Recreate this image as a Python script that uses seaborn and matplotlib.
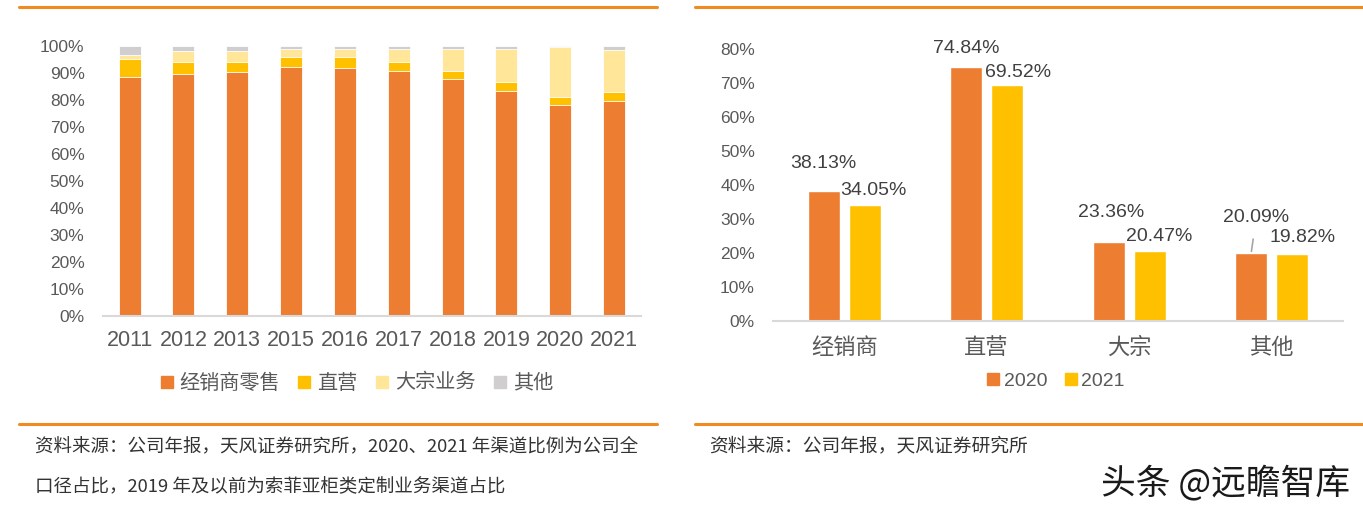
import matplotlib
matplotlib.use("Agg")
import pandas as pd
import matplotlib.pyplot as plt
import seaborn as sns
from matplotlib.lines import Line2D

# 左图：渠道结构（%）
years = ['2011', '2012', '2013', '2015', '2016', '2017', '2018', '2019', '2020', '2021']
dealer = [88.6, 89.7, 90.5, 92.2, 92.0, 90.6, 87.6, 83.5, 78.0, 79.8]
direct = [6.4, 4.4, 3.7, 3.7, 3.9, 3.6, 3.1, 3.2, 3.1, 3.2]
bulk = [1.5, 4.2, 3.9, 3.1, 3.1, 4.8, 8.3, 12.3, 18.4, 15.5]
other = [3.5, 1.7, 1.9, 1.0, 1.0, 1.0, 1.0, 1.0, 0.5, 1.5]
left_series = ['经销商零售', '直营', '大宗业务', '其他']

# 右图：2020 / 2021 渠道占比（%）
channels = ['经销商', '直营', '大宗', '其他']
share_2020 = [38.13, 74.84, 23.36, 20.09]
share_2021 = [34.05, 69.52, 20.47, 19.82]

ORANGE = '#ED7D31'
YELLOW = '#FFC000'
LIGHT = '#FFE699'
GRAY = '#D0CECE'
LINE = '#F28A22'
TICK = '#595959'

sns.set_style('white')
plt.rcParams['font.family'] = ['Liberation Sans', 'Noto Sans CJK SC']
CJK = ['Noto Sans CJK SC', 'DejaVu Sans']

fig = plt.figure(figsize=(13.63, 5.11), dpi=100)

# ---- 左图 ----
ax1 = fig.add_axes([0.0753, 0.3816, 0.395, 0.5284])
df = pd.DataFrame({'year': years, 'dealer': dealer, 'direct': direct,
                   'bulk': bulk, 'other': other})
df['c1'] = df['dealer']
df['c2'] = df['c1'] + df['direct']
df['c3'] = df['c2'] + df['bulk']
df['c4'] = df['c3'] + df['other']
for col, colr in zip(['c4', 'c3', 'c2', 'c1'], [GRAY, LIGHT, YELLOW, ORANGE]):
    sns.barplot(data=df, x='year', y=col, color=colr, width=0.41,
                edgecolor='white', linewidth=0.6, ax=ax1, saturation=1)
ax1.set_xlim(-0.5, 9.5)
ax1.set_ylim(0, 100)
ax1.set_yticks(range(0, 101, 10))
ax1.set_yticklabels([f'{v}%' for v in range(0, 101, 10)])
ax1.set_xlabel('')
ax1.set_ylabel('')

# ---- 右图 ----
ax2 = fig.add_axes([0.5671, 0.3718, 0.4182, 0.5323])
df2 = pd.DataFrame({'channel': channels * 2,
                    'year': ['2020'] * 4 + ['2021'] * 4,
                    'share': share_2020 + share_2021})
sns.barplot(data=df2, x='channel', y='share', hue='year',
            palette=[ORANGE, YELLOW], width=0.575, gap=0.22,
            saturation=1, ax=ax2, legend=False)
ax2.set_xlim(-0.5, 3.5)
ax2.set_ylim(0, 80)
ax2.set_yticks(range(0, 81, 10))
ax2.set_yticklabels([f'{v}%' for v in range(0, 81, 10)])
ax2.set_xlabel('')
ax2.set_ylabel('')

# 数据标签（偏移量，像素）
label_dx = [[0, 0, 2, 5], [9, 11, 9, 10]]
label_dy = [[28, 18, 29, 35], [15, 12, 15, 16]]
for k, cont in enumerate(ax2.containers):
    vals = share_2020 if k == 0 else share_2021
    for i, bar in enumerate(cont):
        cx = bar.get_x() + bar.get_width() / 2
        top = bar.get_height()
        arrow = None
        if k == 0 and i == 3:
            arrow = dict(arrowstyle='-', color='#A6A6A6', lw=1.2,
                         shrinkA=7, shrinkB=1)
        ax2.annotate(f'{vals[i]:.2f}%', xy=(cx, top),
                     xytext=(label_dx[k][i], label_dy[k][i]),
                     textcoords='offset pixels', ha='center', va='center',
                     fontsize=14, color='#404040', arrowprops=arrow)

for ax in (ax1, ax2):
    for s in ['top', 'right', 'left']:
        ax.spines[s].set_visible(False)
    ax.spines['bottom'].set_color('#D9D9D9')
    ax.spines['bottom'].set_linewidth(1.5)
    ax.tick_params(length=0, colors=TICK)
    for t in ax.get_yticklabels():
        t.set_fontsize(12.5)
ax1.tick_params(axis='x', labelsize=15.5, pad=10)
ax1.tick_params(axis='y', pad=13)
ax2.tick_params(axis='y', pad=13)
ax2.tick_params(axis='x', pad=11)
for t in ax2.get_xticklabels():
    t.set_fontfamily(CJK)
    t.set_fontsize(16)

# 图例
h1 = [Line2D([], [], marker='s', ls='', color=c, markersize=9)
      for c in [ORANGE, YELLOW, LIGHT, GRAY]]
leg1 = fig.legend(h1, left_series, loc='center', bbox_to_anchor=(0.261, 0.25),
                  ncol=4, frameon=False, handletextpad=0.25, handlelength=0.8,
                  columnspacing=0.8, prop={'family': CJK, 'size': 14.5})
for t in leg1.get_texts():
    t.set_color(TICK)
h2 = [Line2D([], [], marker='s', ls='', color=c, markersize=9)
      for c in [ORANGE, YELLOW]]
leg2 = fig.legend(h2, ['2020', '2021'], loc='center', bbox_to_anchor=(0.774, 0.254),
                  ncol=2, frameon=False, handletextpad=0.15, handlelength=0.8,
                  columnspacing=0.8,
                  prop={'family': ['Liberation Sans', 'DejaVu Sans'], 'size': 14})
for t in leg2.get_texts():
    t.set_color(TICK)

# 分隔线
for x0, x1 in [(19, 657), (695, 1363)]:
    for y in [6.7, 423.5]:
        fig.add_artist(Line2D([x0 / 1363, x1 / 1363], [1 - y / 511, 1 - y / 511],
                              color=LINE, lw=2.2, transform=fig.transFigure))

# 资料来源
fig.text(35 / 1363, 1 - 446 / 511,
         '资料来源：公司年报，天风证券研究所，2020、2021 年渠道比例为公司全',
         family=CJK, fontsize=13.3, color='#333333', va='center')
fig.text(35 / 1363, 1 - 487 / 511,
         '口径占比，2019 年及以前为索菲亚柜类定制业务渠道占比',
         family=CJK, fontsize=13.3, color='#333333', va='center')
fig.text(709 / 1363, 1 - 446 / 511, '资料来源：公司年报，天风证券研究所',
         family=CJK, fontsize=13.5, color='#333333', va='center')
fig.text(1350 / 1363, 1 - 483 / 511, '头条 @远瞻智库',
         family=CJK, fontsize=25, color='#1A1A1A', va='center', ha='right')

fig.savefig('out.png', dpi=100)
